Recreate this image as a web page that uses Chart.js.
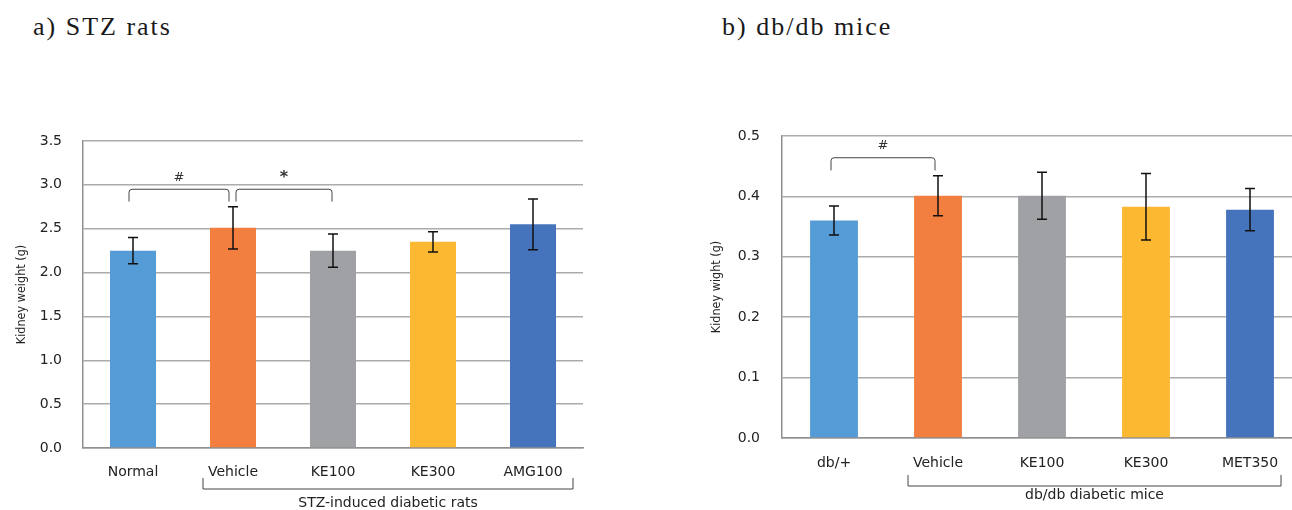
<!DOCTYPE html>
<html>
<head>
<meta charset="utf-8">
<script src="https://cdn.jsdelivr.net/npm/chart.js@4/dist/chart.umd.min.js"></script>
<style>
  html, body { margin: 0; padding: 0; background: #fff; overflow: hidden; }
  body { width: 1292px; height: 510px; position: relative; }
  .ttl { position: absolute; top: 12px; font: 26px "Liberation Serif", serif; letter-spacing: 2px; color: #1a1a1a; white-space: nowrap; }
  .box { position: absolute; top: 0; height: 510px; }
</style>
</head>
<body>
<div class="ttl" style="left:33px">a) STZ rats</div>
<div class="ttl" style="left:722px">b) db/db mice</div>
<div class="box" style="left:0;width:600px"><canvas id="ratChart"></canvas></div>
<div class="box" style="left:700px;width:620px"><canvas id="miceChart"></canvas></div>
<script>
// a) STZ rats
const ratLabels = ["Normal", "Vehicle", "KE100", "KE300", "AMG100"];
const ratMean = [2.25, 2.51, 2.25, 2.35, 2.55];
const ratSD = [0.15, 0.24, 0.19, 0.115, 0.29];
const ratTicks = [0, 0.5, 1.0, 1.5, 2.0, 2.5, 3.0, 3.5];
// brackets: [from, to, top value, leg value, mark]
const ratSig = [[0, 1, 2.95, 2.81, "#"], [1, 2, 2.95, 2.81, "*"]];
const ratGroup = "STZ-induced diabetic rats";

// b) db/db mice
const miceLabels = ["db/+", "Vehicle", "KE100", "KE300", "MET350"];
const miceMean = [0.36, 0.401, 0.401, 0.383, 0.378];
const miceSD = [0.024, 0.033, 0.039, 0.055, 0.035];
const miceTicks = [0, 0.1, 0.2, 0.3, 0.4, 0.5];
const miceSig = [[0, 1, 0.464, 0.443, "#"]];
const miceGroup = "db/db diabetic mice";

const barColors = ["#559BD6", "#F27E40", "#A0A1A4", "#FDB832", "#4674BC"];
const FONT = "'DejaVu Sans', Verdana, sans-serif";
const TITLE_FONT = "'DejaVu Sans Condensed', 'DejaVu Sans', sans-serif";

// error bars, significance brackets and group bracket
const extras = {
  id: "extras",
  afterDatasetsDraw(chart, args, opts) {
    const ctx = chart.ctx;
    const y = chart.scales.y;
    const bars = chart.getDatasetMeta(0).data;
    ctx.save();

    // error bars
    ctx.strokeStyle = "#111";
    ctx.lineWidth = 1.5;
    opts.sd.forEach((s, i) => {
      const m = opts.mean[i];
      const x = bars[i].x;
      const t = y.getPixelForValue(m + s);
      const b = y.getPixelForValue(m - s);
      ctx.beginPath();
      ctx.moveTo(x, t); ctx.lineTo(x, b);
      ctx.moveTo(x - 5, t); ctx.lineTo(x + 5, t);
      ctx.moveTo(x - 5, b); ctx.lineTo(x + 5, b);
      ctx.stroke();
    });

    // significance brackets
    ctx.strokeStyle = "#444";
    ctx.lineWidth = 1;
    ctx.fillStyle = "#333";
    ctx.textAlign = "center";
    ctx.textBaseline = "middle";
    opts.sig.forEach(([a, b, top, leg, mark], k) => {
      const x1 = bars[a].x + opts.sigOff[k][0];
      const x2 = bars[b].x + opts.sigOff[k][1];
      const yt = y.getPixelForValue(top);
      const yl = y.getPixelForValue(leg);
      const r = 3;
      ctx.beginPath();
      ctx.moveTo(x1, yl);
      ctx.lineTo(x1, yt + r);
      ctx.quadraticCurveTo(x1, yt, x1 + r, yt);
      ctx.lineTo(x2 - r, yt);
      ctx.quadraticCurveTo(x2, yt, x2, yt + r);
      ctx.lineTo(x2, yl);
      ctx.stroke();
      ctx.font = (mark === "*" ? "bold 16px " : "13px ") + FONT;
      ctx.fillText(mark, (x1 + x2) / 2, yt - (mark === "*" ? 11 : 12));
    });

    // group bracket below the labels
    const g = opts.group;
    const gx1 = bars[1].x + g.dx1;
    const gx2 = bars[bars.length - 1].x + g.dx2;
    ctx.strokeStyle = "#444";
    ctx.beginPath();
    ctx.moveTo(gx1, g.top); ctx.lineTo(gx1, g.bottom);
    ctx.lineTo(gx2, g.bottom); ctx.lineTo(gx2, g.top);
    ctx.stroke();
    ctx.fillStyle = "#222";
    ctx.font = "14px " + FONT;
    ctx.fillText(g.text, (gx1 + gx2) / 2, g.textY);
    ctx.restore();
  }
};

function makeChart(id, labels, mean, sd, ticks, sig, sigOff, group, o) {
  return new Chart(document.getElementById(id), {
    type: "bar",
    data: {
      labels: labels,
      datasets: [{
        data: mean,
        backgroundColor: barColors,
        barPercentage: 0.46,
        categoryPercentage: 1.0
      }]
    },
    options: {
      responsive: false,
      animation: false,
      devicePixelRatio: 1,
      layout: { padding: { top: o.top, right: o.right, left: 0, bottom: 0 } },
      plugins: {
        legend: { display: false },
        tooltip: { enabled: false },
        extras: { mean: mean, sd: sd, sig: sig, sigOff: sigOff, group: group }
      },
      scales: {
        x: {
          grid: { display: false, drawTicks: false },
          border: { color: "#8F8F8F", width: 1.5 },
          ticks: { color: "#222", font: { family: FONT, size: 14 }, padding: o.xPad, maxRotation: 0 },
          afterFit: s => { s.height = o.xH; }
        },
        y: {
          min: ticks[0],
          max: ticks[ticks.length - 1],
          afterBuildTicks: s => { s.ticks = ticks.map(v => ({ value: v })); },
          grid: { color: "#ABABAB", lineWidth: 1.5, drawTicks: false },
          border: { color: "#8F8F8F", width: 1.5 },
          ticks: { color: "#222", font: { family: FONT, size: 14 }, padding: o.yPad,
                   callback: v => Number(v).toFixed(1) },
          title: { display: true, text: o.yTitle, color: "#222",
                   font: { family: TITLE_FONT, size: 12.5 }, padding: { top: o.titlePad, bottom: 0 } },
          afterFit: s => { s.width = o.yW; }
        }
      }
    },
    plugins: [extras]
  });
}

const ratCanvas = document.getElementById("ratChart");
ratCanvas.width = 600; ratCanvas.height = 510;
makeChart("ratChart", ratLabels, ratMean, ratSD, ratTicks, ratSig, [[-4, -4], [3, -1]],
  { dx1: -30, dx2: 40, top: 478, bottom: 489, textY: 503, text: ratGroup },
  { top: 141, right: 17, xH: 62, xPad: 16, yPad: 21, yW: 83, titlePad: 14, yTitle: "Kidney weight (g)" });

const miceCanvas = document.getElementById("miceChart");
miceCanvas.width = 620; miceCanvas.height = 510;
makeChart("miceChart", miceLabels, miceMean, miceSD, miceTicks, miceSig, [[-3, -3]],
  { dx1: -30, dx2: 31, top: 475, bottom: 486, textY: 495, text: miceGroup },
  { top: 136, right: 18, xH: 72, xPad: 17, yPad: 22, yW: 82, titlePad: 9, yTitle: "Kidney wight (g)" });
</script>
</body>
</html>
